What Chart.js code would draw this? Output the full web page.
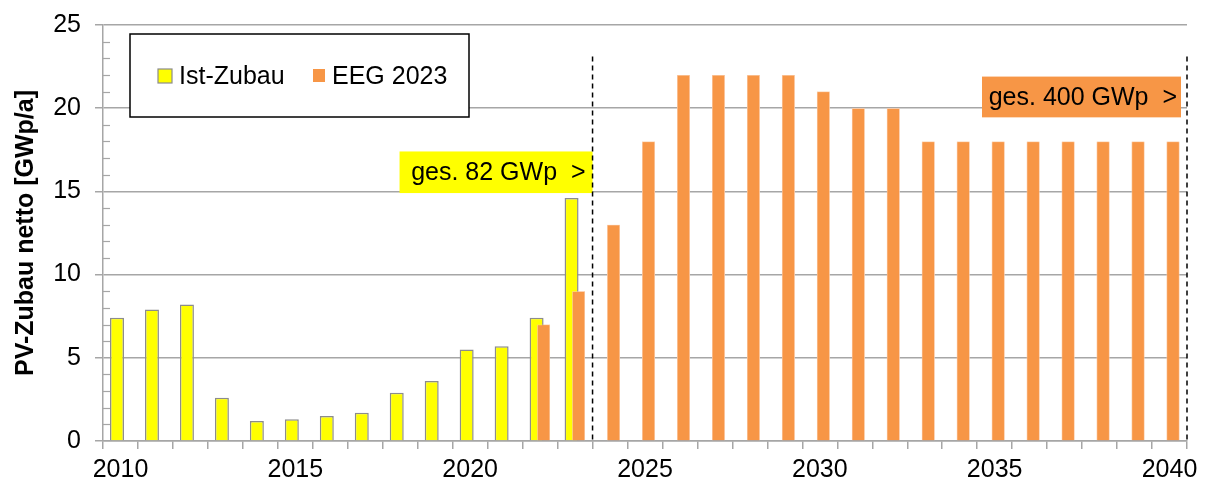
<!DOCTYPE html>
<html>
<head>
<meta charset="utf-8">
<script src="https://cdn.jsdelivr.net/npm/chart.js@4/dist/chart.umd.min.js"></script>
<style>
  body { margin: 0; background: #fff; }
  #wrap { width: 1205px; height: 484px; }
</style>
</head>
<body>
<div id="wrap"><canvas id="myChart"></canvas></div>
<script>
// Years on the x axis
var years = [];
for (var y = 2010; y <= 2040; y++) years.push(y);

// Actual net additions (GWp/a)
var istZubau = [7.4, 7.9, 8.2, 2.6, 1.2, 1.3, 1.5, 1.7, 2.9, 3.6, 5.5, 5.7, 7.4, 14.6,
  null, null, null, null, null, null, null, null, null, null, null, null, null, null, null, null, null];

// EEG 2023 targets (GWp/a)
var eeg2023 = [null, null, null, null, null, null, null, null, null, null, null, null, 7, 9,
  13, 18, 22, 22, 22, 22, 21, 20, 20, 18, 18, 18, 18, 18, 18, 18, 18];

var seriesNames = ['Ist-Zubau', 'EEG 2023'];
var boxTexts = ['ges. 82 GWp  >', 'ges. 400 GWp  >'];
var yTicks = [0, 5, 10, 15, 20, 25];

var font = 'Liberation Sans, Arial, sans-serif';
var yellow = '#ffff00';
var orange = '#f79646';
var gridGray = '#a6a6a6';

// Legend box, dashed separators, total boxes and minor ticks
var extras = {
  id: 'extras',
  afterDatasetsDraw(chart) {
    const ctx = chart.ctx;
    const area = chart.chartArea;
    const x = chart.scales.x;
    const yS = chart.scales.y;
    const half = (x.getPixelForValue(1) - x.getPixelForValue(0)) / 2;

    // orange bars sit on top of the yellow ones
    chart.getDatasetMeta(1).controller.draw();

    ctx.save();
    // minor ticks on the y axis
    ctx.strokeStyle = gridGray;
    ctx.lineWidth = 1.2;
    for (let v = 0; v <= 25; v++) {
      if (v % 5 === 0) continue;
      const py = Math.round(yS.getPixelForValue(v)) + 0.5;
      ctx.beginPath();
      ctx.moveTo(area.left, py);
      ctx.lineTo(area.left + 7, py);
      ctx.stroke();
    }

    // boxes with totals
    ctx.font = '25px ' + font;
    ctx.textBaseline = 'middle';
    ctx.textAlign = 'right';
    const sep = x.getPixelForValue(13) + half;
    let top = yS.getPixelForValue(17.4), bot = yS.getPixelForValue(14.9);
    ctx.fillStyle = yellow;
    ctx.fillRect(sep - 193, top, 193, bot - top);
    ctx.fillStyle = '#000';
    ctx.fillText(boxTexts[0], sep - 7, (top + bot) / 2 + 1);

    const right = x.getPixelForValue(30) + half;
    top = yS.getPixelForValue(21.9); bot = yS.getPixelForValue(19.45);
    ctx.fillStyle = orange;
    ctx.fillRect(right - 205, top, 199, bot - top);
    ctx.fillStyle = '#000';
    ctx.fillText(boxTexts[1], right - 10, (top + bot) / 2 + 1);

    // dashed separators
    ctx.strokeStyle = '#000';
    ctx.lineWidth = 1.5;
    ctx.setLineDash([5, 4]);
    [sep, right].forEach(function (px) {
      ctx.beginPath();
      ctx.moveTo(px, yS.getPixelForValue(23.1));
      ctx.lineTo(px, area.bottom);
      ctx.stroke();
    });
    ctx.setLineDash([]);

    // legend
    const lx = area.left + 27, ly = area.top + 9;
    ctx.fillStyle = '#fff';
    ctx.fillRect(lx, ly, 339, 83);
    ctx.strokeStyle = '#000';
    ctx.lineWidth = 1.5;
    ctx.strokeRect(lx, ly, 339, 83);
    ctx.fillStyle = yellow;
    ctx.fillRect(lx + 28, ly + 35, 14, 14);
    ctx.strokeStyle = '#8c8c8c';
    ctx.lineWidth = 1.2;
    ctx.strokeRect(lx + 28, ly + 35, 14, 14);
    ctx.fillStyle = orange;
    ctx.fillRect(lx + 183, ly + 35, 12, 13);
    ctx.fillStyle = '#000';
    ctx.textAlign = 'left';
    ctx.fillText(seriesNames[0], lx + 49, ly + 43);
    ctx.fillText(seriesNames[1], lx + 202, ly + 43);
    ctx.restore();
  }
};

const ctx = document.getElementById('myChart');
var myChart = new Chart(ctx, {
  type: 'bar',
  data: {
    labels: years,
    datasets: [{
      label: seriesNames[0],
      data: istZubau,
      backgroundColor: yellow,
      borderColor: '#8c8c8c',
      borderWidth: 1.5,
      categoryPercentage: 0.4,
      barPercentage: 2.0,
    }, {
      label: seriesNames[1],
      data: eeg2023,
      backgroundColor: orange,
      borderColor: '#fbc9a4',
      borderWidth: 0.8,
      categoryPercentage: 0.4,
      barPercentage: 1.86,
    }]
  },
  options: {
    responsive: true,
    maintainAspectRatio: false,
    animation: false,
    layout: { padding: { top: 25, right: 18, left: 0, bottom: 0 } },
    scales: {
      x: {
        afterFit: (s) => { s.height = 43; },
        grid: {
          offset: true,
          drawOnChartArea: false,
          drawTicks: true,
          tickLength: 8,
          color: gridGray,
          lineWidth: 1.5,
        },
        border: { color: gridGray, width: 1.5 },
        ticks: {
          autoSkip: false,
          maxRotation: 0,
          padding: 6,
          color: '#000',
          font: { family: font, size: 25 },
          callback: function (val, i) { return years[i] % 5 === 0 ? String(years[i]) : ''; }
        }
      },
      y: {
        min: 0,
        max: 25,
        afterFit: (s) => { s.width = 103; s.paddingTop = 0; s.paddingBottom = 0; },
        afterBuildTicks: (s) => { s.ticks = yTicks.map(v => ({ value: v })); },
        grid: {
          color: gridGray,
          lineWidth: 1.5,
          tickLength: 8,
        },
        border: { color: gridGray, width: 1.5 },
        ticks: {
          padding: 14,
          color: '#000',
          font: { family: font, size: 25 },
        },
        title: {
          display: true,
          text: 'PV-Zubau netto [GWp/a]',
          color: '#000',
          font: { family: font, size: 25, weight: 'bold' },
          padding: { top: 11, bottom: 0 },
        }
      }
    },
    plugins: {
      legend: { display: false },
      tooltip: { enabled: false },
    }
  },
  plugins: [extras]
});
</script>
</body>
</html>
